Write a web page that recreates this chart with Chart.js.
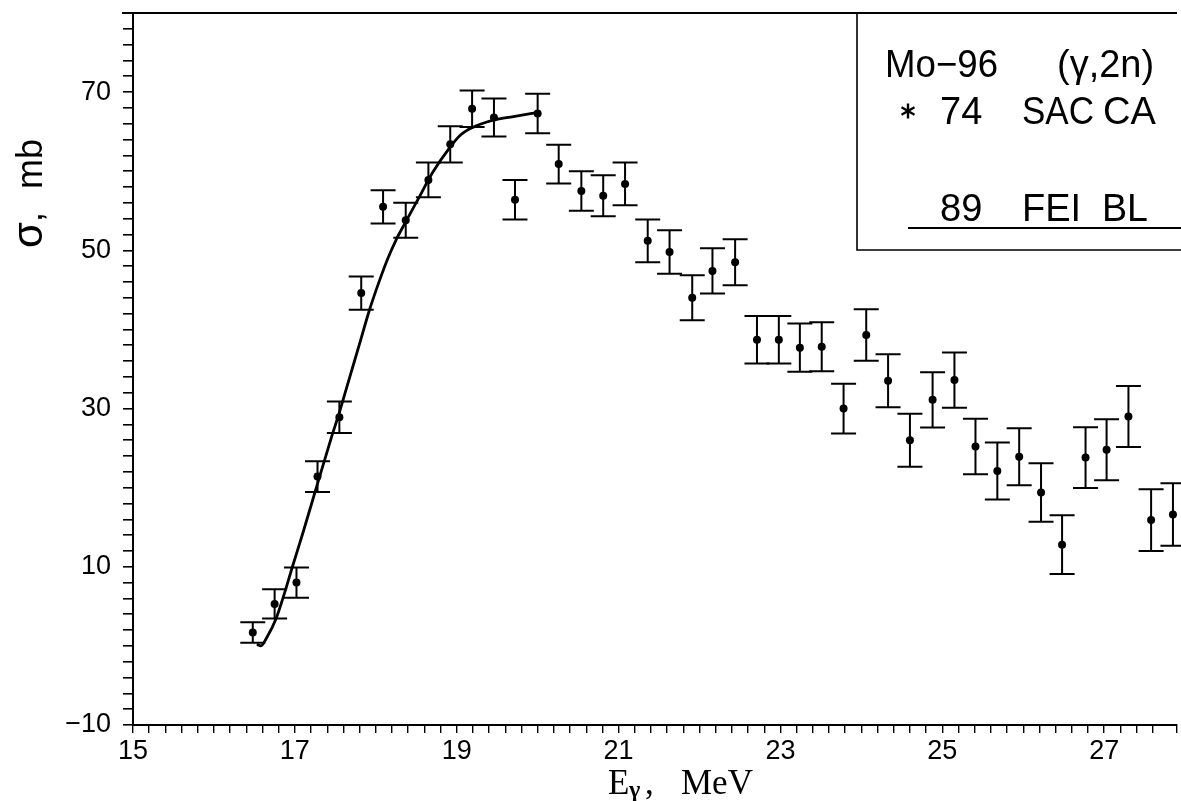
<!DOCTYPE html>
<html>
<head>
<meta charset="utf-8">
<script src="https://cdn.jsdelivr.net/npm/chart.js@4.4.1/dist/chart.umd.min.js"></script>
<style>
  html, body { margin: 0; padding: 0; background: #fff; }
  #wrap { position: relative; width: 1181px; height: 801px; }
</style>
</head>
<body>
<div id="wrap"><canvas id="c"></canvas></div>
<script>
// ---- data ----
const energies = [16.48, 16.75, 17.02, 17.28, 17.55, 17.82, 18.09, 18.37, 18.65, 18.92,
                  19.19, 19.46, 19.72, 20.00, 20.26, 20.54, 20.81, 21.08, 21.36, 21.63,
                  21.91, 22.16, 22.44, 22.71, 22.98, 23.24, 23.51, 23.78, 24.06, 24.33,
                  24.60, 24.88, 25.15, 25.41, 25.68, 25.95, 26.22, 26.48, 26.77, 27.03,
                  27.30, 27.58, 27.85];
const sigma = [1.7, 5.3, 8.0, 21.4, 28.9, 44.6, 55.5, 53.8, 58.9, 63.4,
               67.9, 66.8, 56.4, 67.3, 60.9, 57.5, 56.9, 58.4, 51.2, 49.8,
               44.0, 47.4, 48.5, 38.7, 38.7, 37.7, 37.8, 30.0, 39.3, 33.5,
               26.0, 31.1, 33.6, 25.2, 22.1, 23.9, 19.4, 12.8, 23.8, 24.8,
               29.0, 15.9, 16.6];
const sigmaErr = [1.3, 1.85, 1.9, 1.95, 2.0, 2.1, 2.1, 2.2, 2.2, 2.3,
                  2.3, 2.4, 2.5, 2.5, 2.45, 2.5, 2.6, 2.7, 2.7, 2.75,
                  2.85, 2.85, 2.9, 3.0, 3.0, 3.05, 3.1, 3.15, 3.25, 3.35,
                  3.35, 3.5, 3.5, 3.5, 3.6, 3.6, 3.7, 3.7, 3.85, 3.85,
                  3.85, 3.9, 3.95];
const curveE = [16.53, 16.58, 16.65, 16.77, 16.87, 16.97, 17.10, 17.28, 17.45, 17.55,
                17.67, 17.80, 17.92, 18.05, 18.15, 18.25, 18.37, 18.53, 18.70, 18.90,
                19.05, 19.19, 19.43, 19.70, 19.99];
const curveSigma = [0.2, 0.0, 1.0, 3.5, 6.6, 10.0, 14.3, 20.5, 26.3, 29.5,
                    33.7, 38.2, 42.4, 46.3, 49.0, 51.3, 53.6, 56.6, 59.8, 62.8,
                    64.6, 65.5, 66.4, 66.9, 67.4];
const xTickLabels = [15, 17, 19, 21, 23, 25, 27];
const yTickLabels = [-10, 10, 30, 50, 70];
const legendTitle = ['Mo\u221296', '(\u03b3,2n)'];
const legendData = ['74', 'SAC', 'CA'];
const legendCurve = ['89', 'FEI', 'BL'];

const pointsData = energies.map((e, i) => ({ x: e, y: sigma[i] }));
const curveData = curveE.map((e, i) => ({ x: e, y: curveSigma[i] }));

const SANS = '"Liberation Sans", Arial, sans-serif';
const SERIF = '"Liberation Serif", "Times New Roman", serif';

const decorPlugin = {
  id: 'decor',
  afterDatasetsDraw(chart) {
    const ctx = chart.ctx;
    const xs = chart.scales.x, ys = chart.scales.y;
    ctx.save();
    ctx.strokeStyle = '#000';
    ctx.lineWidth = 2;
    for (let i = 0; i < energies.length; i++) {
      const px = xs.getPixelForValue(energies[i]);
      const pt = ys.getPixelForValue(sigma[i] + sigmaErr[i]);
      const pb = ys.getPixelForValue(sigma[i] - sigmaErr[i]);
      ctx.beginPath();
      ctx.moveTo(px, pt); ctx.lineTo(px, pb);
      ctx.moveTo(px - 12.5, pt); ctx.lineTo(px + 12.5, pt);
      ctx.moveTo(px - 12.5, pb); ctx.lineTo(px + 12.5, pb);
      ctx.stroke();
    }
    ctx.restore();
  },
  afterDraw(chart) {
    const ctx = chart.ctx;
    const { left, top, right } = chart.chartArea;
    const W = chart.width;
    ctx.save();
    ctx.strokeStyle = '#000';
    ctx.fillStyle = '#000';
    // top frame line
    ctx.lineWidth = 2;
    ctx.beginPath();
    ctx.moveTo(left - 11, top); ctx.lineTo(right, top);
    ctx.stroke();

    // legend box
    const bx = 857, by2 = 250;
    ctx.lineWidth = 1.6;
    ctx.beginPath();
    ctx.moveTo(bx, top); ctx.lineTo(bx, by2); ctx.lineTo(W + 2, by2);
    ctx.stroke();

    ctx.textBaseline = 'alphabetic';
    ctx.textAlign = 'left';
    ctx.font = '38px ' + SANS;
    ctx.fillText(legendTitle[0], 885, 77, 113);
    ctx.fillText(legendTitle[1], 1057, 77, 103);
    const ax = 908, ay = 111, ar = 7.5;
    ctx.lineWidth = 2.4;
    ctx.beginPath();
    for (let k = 0; k < 3; k++) {
      const a = Math.PI / 2 + k * Math.PI / 3;
      ctx.moveTo(ax - ar * Math.cos(a), ay - ar * Math.sin(a));
      ctx.lineTo(ax + ar * Math.cos(a), ay + ar * Math.sin(a));
    }
    ctx.stroke();
    ctx.fillText(legendData[0], 940, 124, 48);
    ctx.fillText(legendData[1], 1022, 124, 72);
    ctx.fillText(legendData[2], 1103, 124, 54);
    ctx.fillText(legendCurve[0], 940, 221, 47);
    ctx.fillText(legendCurve[1], 1022, 221, 62);
    ctx.fillText(legendCurve[2], 1102, 221, 46);
    ctx.lineWidth = 2;
    ctx.beginPath();
    ctx.moveTo(908, 228); ctx.lineTo(W + 2, 228);
    ctx.stroke();

    // x axis title  E_gamma, MeV
    const tx = 608, tb = 794;
    ctx.font = '35px ' + SERIF;
    ctx.fillText('E', tx, tb);
    ctx.font = 'bold 24px ' + SERIF;
    ctx.fillText('\u03b3', tx + 21, tb + 3);
    ctx.font = '35px ' + SERIF;
    ctx.fillText(',', tx + 37, tb);
    ctx.fillText('MeV', 681, tb);

    // y axis title  sigma, mb (rotated)
    ctx.translate(42, 248);
    ctx.rotate(-Math.PI / 2);
    ctx.font = '42px ' + SANS;
    ctx.fillText('\u03c3', 0, 0);
    ctx.font = '36px ' + SANS;
    ctx.fillText(',', 26, 0);
    ctx.fillText('mb', 59, 0);
    ctx.restore();
  }
};

new Chart(document.getElementById('c'), {
  type: 'scatter',
  data: {
    datasets: [
      {
        label: '74 SAC CA',
        data: pointsData,
        pointStyle: 'circle',
        pointRadius: 4,
        backgroundColor: '#000',
        borderColor: '#000',
        borderWidth: 0,
        showLine: false
      },
      {
        label: '89 FEI BL',
        data: curveData,
        showLine: true,
        borderColor: '#000',
        borderWidth: 2.8,
        pointRadius: 0,
        cubicInterpolationMode: 'monotone',
        fill: false
      }
    ]
  },
  options: {
    responsive: true,
    maintainAspectRatio: false,
    animation: false,
    layout: { padding: { top: 13, right: 0, left: 0, bottom: 0 } },
    plugins: {
      legend: { display: false },
      tooltip: { enabled: false },
      title: { display: false }
    },
    scales: {
      x: {
        type: 'linear',
        min: 15,
        max: 27.9,
        grid: { drawOnChartArea: false, drawTicks: true, tickLength: 8, color: '#000', lineWidth: 1.4 },
        border: { display: true, color: '#000', width: 2 },
        ticks: {
          stepSize: 0.2,
          autoSkip: false,
          maxRotation: 0,
          padding: 2,
          color: '#000',
          font: { family: SANS, size: 27 },
          callback: (v) => {
            const r = Math.round(v);
            return (Math.abs(v - r) < 1e-6 && xTickLabels.includes(r)) ? String(r) : '';
          }
        },
        afterFit: (s) => { s.height = 76; s.paddingLeft = 0; s.paddingRight = 0; }
      },
      y: {
        type: 'linear',
        min: -10,
        max: 80,
        grid: { drawOnChartArea: false, drawTicks: true, tickLength: 10, color: '#000', lineWidth: 1.6 },
        border: { display: true, color: '#000', width: 2 },
        ticks: {
          stepSize: 2,
          autoSkip: false,
          padding: 12,
          color: '#000',
          font: { family: SANS, size: 27 },
          callback: (v) => {
            const r = Math.round(v);
            if (Math.abs(v - r) > 1e-6 || !yTickLabels.includes(r)) return '';
            return r < 0 ? '\u2212' + Math.abs(r) : String(r);
          }
        },
        afterFit: (s) => { s.width = 133; s.paddingTop = 0; s.paddingBottom = 0; }
      }
    }
  },
  plugins: [decorPlugin]
});
</script>
</body>
</html>
